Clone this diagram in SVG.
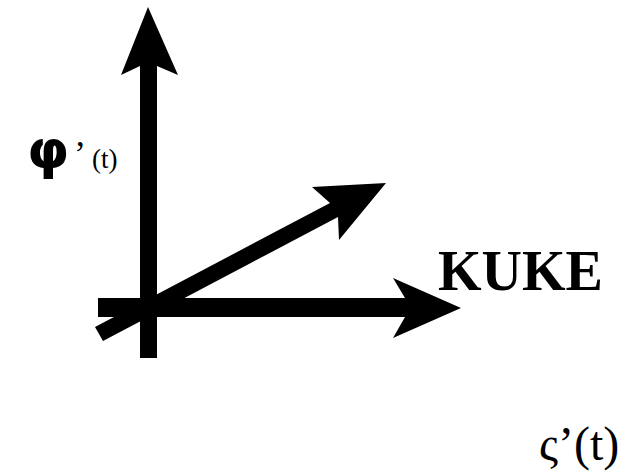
<svg xmlns="http://www.w3.org/2000/svg" width="624" height="472" viewBox="0 0 624 472">
<style>
.arrow{fill:#000;stroke:none}
.serif{font-family:"Liberation Serif","Times New Roman",serif;fill:#000}
.sym{font-family:"DejaVu Sans",sans-serif;font-weight:bold;fill:#000}
</style>
<rect width="624" height="472" fill="#fff"/>
<g id="connectors">
<polygon class="arrow" points="148,7 178,75 157,66 157,358 140,358 140,66 121,75"/>
<polygon class="arrow" points="98,298 405,298 393,278 461,308 393,338 405,317 98,317"/>
<polygon class="arrow" points="95,327 330,203 312,187 386,183 339,240 338,217 103,341"/>
</g>
<g id="label-y">
<text class="sym" x="27" y="168" font-size="54">φ</text>
<text class="serif" x="74" y="166" font-size="36">’</text>
<text class="serif" x="92" y="168" font-size="27">(t)</text>
</g>
<g id="label-kuke">
<text class="serif" x="438" y="290" font-size="56" font-weight="bold">KUKE</text>
</g>
<g id="label-x">
<text class="serif" x="539" y="460" font-size="48">ς’(t)</text>
</g>
</svg>
